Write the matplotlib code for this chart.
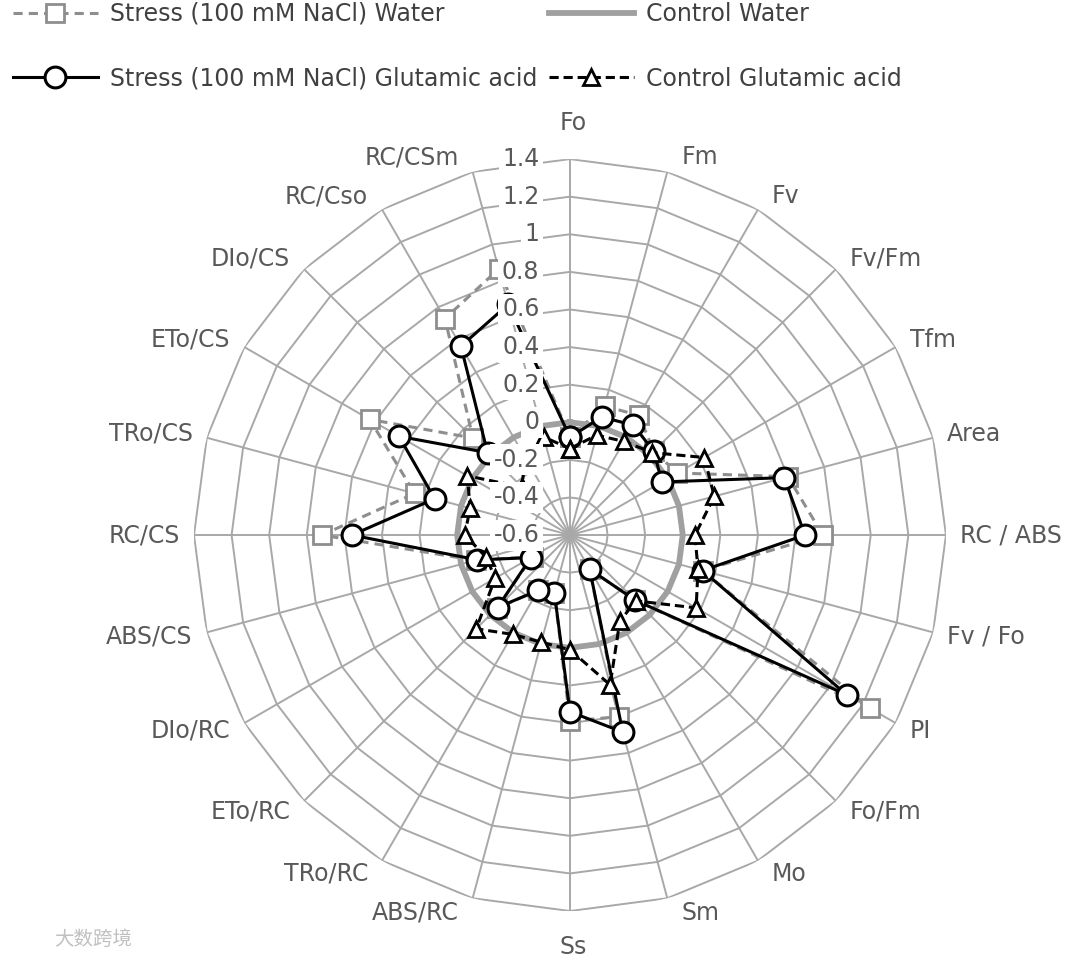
import numpy as np
import matplotlib.pyplot as plt
from matplotlib.lines import Line2D

plt.rcParams['font.family'] = ['DejaVu Sans']

# --- dane ---
categories = ['Fo', 'Fm', 'Fv', 'Fv/Fm', 'Tfm', 'Area', 'RC / ABS', 'Fv / Fo', 'PI', 'Fo/Fm',
              'Mo', 'Sm', 'Ss', 'ABS/RC', 'TRo/RC', 'ETo/RC', 'DIo/RC', 'ABS/CS', 'RC/CS',
              'TRo/CS', 'ETo/CS', 'DIo/CS', 'RC/Cso', 'RC/CSm']

stress_water = [-0.08, 0.11, 0.135, 0.03, 0.06, 0.60, 0.745, 0.13, 1.24, -0.11,
                -0.39, 0.40, 0.39, -0.28, -0.26, -0.05, -0.37, -0.08, 0.72,
                0.255, 0.63, 0.13, 0.73, 0.865]
control_water = [0, 0, 0, 0, 0, 0, 0, 0, 0, 0, 0, 0,
                 0, 0, 0, 0, 0, 0, 0, 0, 0, 0, 0, 0]
stress_glu = [-0.08, 0.05, 0.075, 0.03, -0.035, 0.58, 0.65, 0.13, 1.10, -0.11,
              -0.39, 0.485, 0.34, -0.28, -0.26, -0.055, -0.36, -0.09, 0.56,
              0.145, 0.45, 0.02, 0.56, 0.67]
control_glu = [-0.14, -0.05, -0.025, 0.02, 0.225, 0.195, 0.065, 0.105, 0.175, -0.105,
               -0.07, 0.225, 0.01, -0.01, 0.01, 0.105, -0.14, -0.14, -0.04,
               -0.05, 0.03, -0.24, -0.12, -0.06]

r_ticks = [-0.6, -0.4, -0.2, 0, 0.2, 0.4, 0.6, 0.8, 1, 1.2, 1.4]
r_tick_labels = ['-0.6', '-0.4', '-0.2', '0', '0.2', '0.4', '0.6', '0.8', '1', '1.2', '1.4']

series_names = ['Stress (100 mM NaCl) Water', 'Control Water',
                'Stress (100 mM NaCl) Glutamic acid', 'Control Glutamic acid']

GRID = '#a8a8a8'
TXT = '#595959'
GRAY_S = '#8e8e8e'
GRAY_C = '#a0a0a0'
FS = 17

n = len(categories)
theta = np.arange(n) * 2 * np.pi / n
theta_c = np.append(theta, theta[0])


def closed(vals):
    return np.append(vals, vals[0])


fig = plt.figure(figsize=(10.8, 9.6), dpi=100)
ax = fig.add_axes([0.1796, 0.0510, 0.6963, 0.7833], projection='polar')
ax.set_theta_zero_location('N')
ax.set_theta_direction(-1)
ax.set_ylim(r_ticks[0], r_ticks[-1])
ax.grid(False)
ax.spines['polar'].set_visible(False)
ax.set_xticks([])
ax.set_yticks([])

# --- siatka wielokątna (jak w Excelu) ---
for v in r_ticks[1:]:
    ax.plot(theta_c, [v] * (n + 1), color=GRID, lw=1.4, zorder=1)
for t in theta:
    ax.plot([t, t], [r_ticks[0], r_ticks[-1]], color=GRID, lw=1.4, zorder=1)

# --- serie ---
styles = [
    dict(color=GRAY_S, lw=2.2, ls=(0, (3, 2)), marker='s', ms=13, mfc='white', mec=GRAY_S, mew=2),
    dict(color=GRAY_C, lw=4.2, ls='-'),
    dict(color='black', lw=2.2, ls='-', marker='o', ms=15, mfc='white', mec='black', mew=2.2),
    dict(color='black', lw=2.2, ls=(0, (3, 1.6)), marker='^', ms=12, mfc='white', mec='black', mew=2),
]
for vals, st in zip([stress_water, control_water, stress_glu, control_glu], styles):
    ax.plot(theta_c, closed(vals), zorder=3, clip_on=False, **st)

# --- etykiety osi promieniowej (z białym tłem) ---
for v, lab in zip(r_ticks, r_tick_labels):
    ax.annotate(lab, xy=(0, v), xytext=(-22, 0), textcoords='offset points',
                ha='right', va='center', fontsize=FS, color=TXT, zorder=10,
                bbox=dict(fc='white', ec='none', pad=2.5))

# --- etykiety kategorii ---
px = 72 / 100
for t, lab in zip(theta, categories):
    s, c = np.sin(t), np.cos(t)
    if abs(s) < 0.01:
        off = (3 * px, 36 * px * np.sign(c))
        ha = 'center'
    else:
        off = (14 * px * np.sign(s), 15 * px * c)
        ha = 'left' if s > 0 else 'right'
    ax.annotate(lab, xy=(t, r_ticks[-1]), xytext=off, textcoords='offset points',
                ha=ha, va='center', fontsize=FS, color=TXT, annotation_clip=False)

# --- legenda ---
handles = [Line2D([], [], **styles[0]), Line2D([], [], **styles[2]),
           Line2D([], [], **styles[1]), Line2D([], [], **styles[3])]
labels = [series_names[0], series_names[2], series_names[1], series_names[3]]
fig.legend(handles, labels, ncol=2, loc='upper left', bbox_to_anchor=(0.012, 0.998),
           frameon=False, borderpad=0, borderaxespad=0, handlelength=3.6,
           handletextpad=0.5, columnspacing=0.5, labelspacing=1.72, fontsize=FS,
           labelcolor='#404040', numpoints=1)

fig.text(0.05, 0.016, '大数跨境', fontsize=14, color='#c0c0c0',
         family=['Noto Sans CJK SC', 'DejaVu Sans'])

fig.savefig('out.png', dpi=100)
